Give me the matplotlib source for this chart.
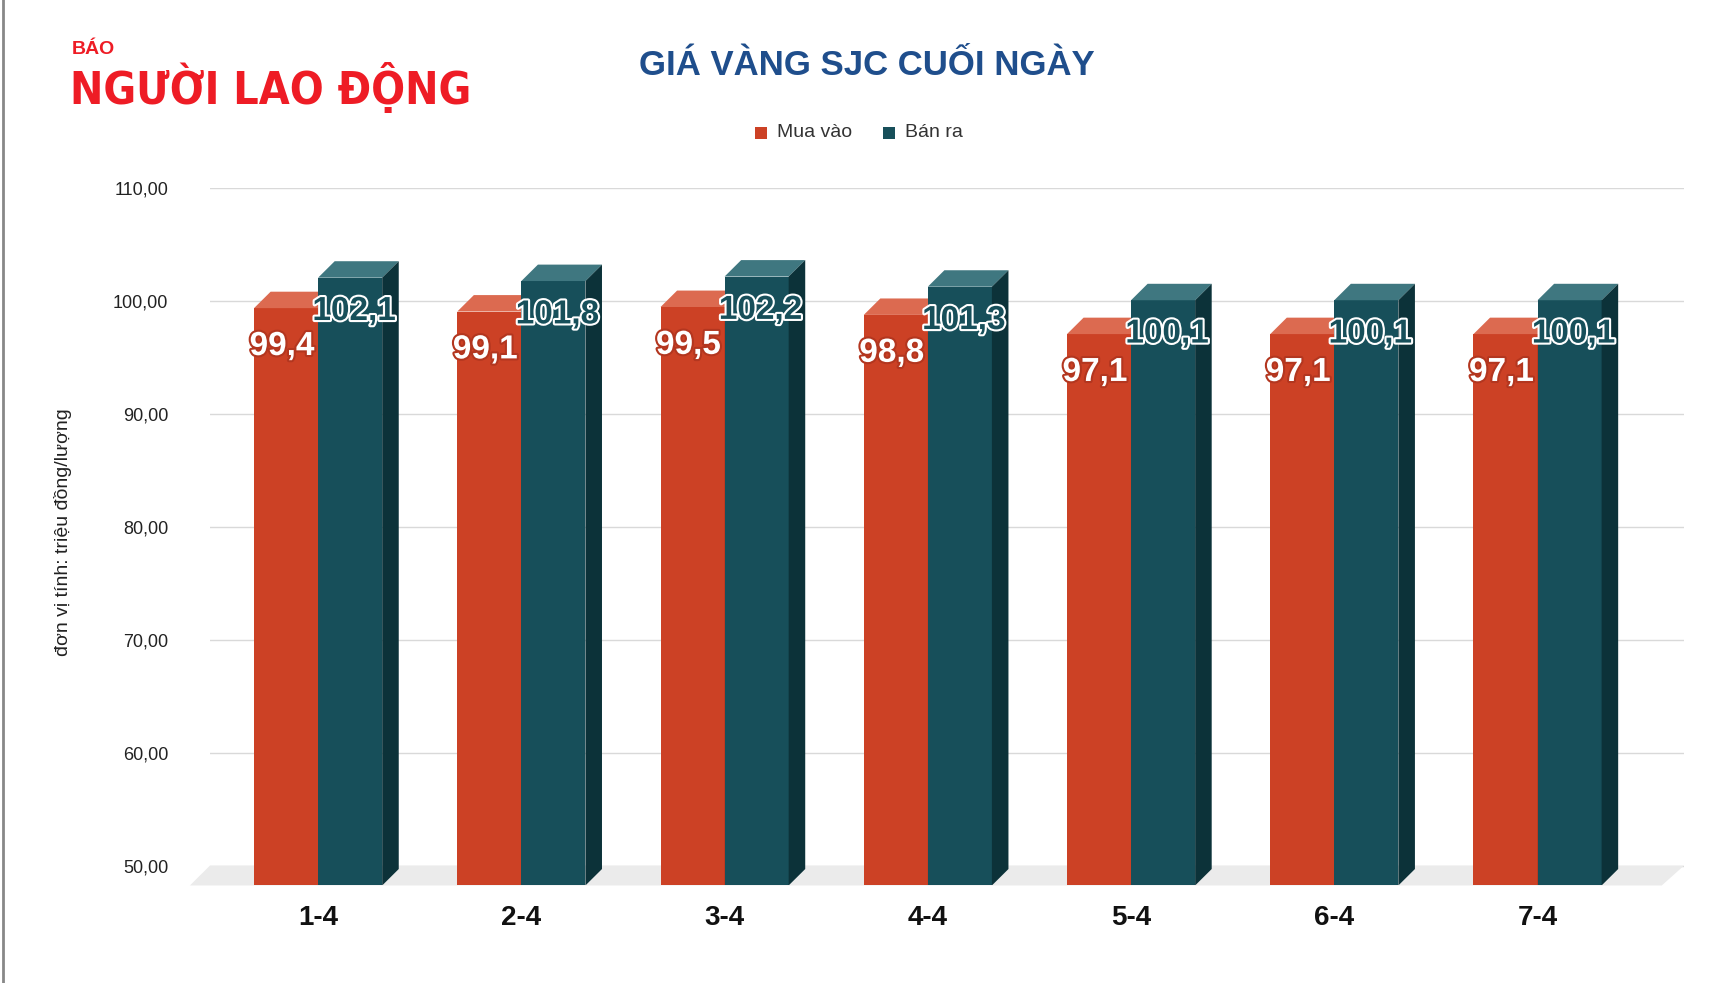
import matplotlib
matplotlib.use("Agg")
import matplotlib.pyplot as plt
from matplotlib.patches import Polygon
import matplotlib.patheffects as pe

plt.rcParams["font.family"] = ["Liberation Sans", "DejaVu Sans"]

dates = ["1-4", "2-4", "3-4", "4-4", "5-4", "6-4", "7-4"]
mua_vao = [99.4, 99.1, 99.5, 98.8, 97.1, 97.1, 97.1]
ban_ra = [102.1, 101.8, 102.2, 101.3, 100.1, 100.1, 100.1]
yticks = [50, 60, 70, 80, 90, 100, 110]

W, H = 1717, 983
fig = plt.figure(figsize=(W/100, H/100), dpi=100)
fig.patch.set_facecolor("white")
ax = fig.add_axes([190/1555, 1-808/897, (1525-190)/1555, (808-172)/897])
ymin, ymax = 48.25, 110
xmin, xmax = -0.533, 6.72
ax.set_xlim(xmin, xmax); ax.set_ylim(ymin, ymax)
for s in ax.spines.values(): s.set_visible(False)
ax.tick_params(length=0)
for t in yticks:
    ax.axhline(t, color="#d9d9d9", lw=1, zorder=0)
ax.set_yticks(yticks)
ax.set_yticklabels([f"{t:.2f}".replace(".", ",") for t in yticks], fontsize=13, color="#222")
ax.set_xticks(range(len(dates)))
ax.set_xticklabels(dates, fontsize=20, fontweight="bold", color="#111")
ax.tick_params(axis="x", pad=14)
ax.tick_params(axis="y", pad=30)

ux = (xmax - xmin) / (1525 - 190)
uy = (ymax - ymin) / (808 - 172)
dx, dy = 15*ux, 15*uy
floor = Polygon([(xmin - 18*ux, ymin), (xmin, 50), (xmax, 50), (xmax - 20*ux, ymin)],
                closed=True, fc="#ebebeb", ec="none", zorder=0.5, clip_on=False)
ax.add_patch(floor)

bw = 58/184
def bar3d(x0, h, front, top, side, z):
    ax.add_patch(Polygon([(x0, ymin), (x0+bw, ymin), (x0+bw, h), (x0, h)], fc=front, ec="none", zorder=z))
    ax.add_patch(Polygon([(x0, h), (x0+bw, h), (x0+bw+dx, h+dy), (x0+dx, h+dy)], fc=top, ec="none", zorder=z))
    ax.add_patch(Polygon([(x0+bw, ymin), (x0+bw+dx, ymin+dy), (x0+bw+dx, h+dy), (x0+bw, h)], fc=side, ec="none", zorder=z))

for i, (m, b) in enumerate(zip(mua_vao, ban_ra)):
    bar3d(i - bw, m, "#cc4125", "#dc6a50", "#a3331d", 2)
    bar3d(i, b, "#174f5a", "#3f7780", "#0c3239", 3)
for i, (m, b) in enumerate(zip(mua_vao, ban_ra)):
    ax.text(i - bw/2 - 0.02, m - 3.4, f"{m:.1f}".replace(".", ","), ha="center", va="center",
            fontsize=24, fontweight="bold", color="white", zorder=5,
            path_effects=[pe.withStroke(linewidth=3, foreground="#b3361f")])
    ax.text(i + bw/2 + 0.02, b - 3.0, f"{b:.1f}".replace(".", ","), ha="center", va="center",
            fontsize=24, fontweight="bold", color="#174f5a", zorder=5,
            path_effects=[pe.withStroke(linewidth=3, foreground="white")])

fig.text(57/1555, 0.5*(1-172/897 + 1-808/897) + 0.005, "đơn vị tính: triệu đồng/lượng",
         rotation=90, ha="center", va="center", fontsize=14, color="#222")
fig.text(785/1555, 1-60/897, "GIÁ VÀNG SJC CUỐI NGÀY", ha="center", va="center",
         fontsize=25, fontweight="bold", color="#1f4e8c")
fig.patches.append(plt.Rectangle((684/1555, 1-127/897), 11/1555, 11/897, transform=fig.transFigure, fc="#cc4125"))
fig.text(704/1555, 1-121/897, "Mua vào", va="center", fontsize=14, color="#333")
fig.patches.append(plt.Rectangle((800/1555, 1-127/897), 11/1555, 11/897, transform=fig.transFigure, fc="#174f5a"))
fig.text(820/1555, 1-121/897, "Bán ra", va="center", fontsize=14, color="#333")
# logo
fig.text(65/1555, 1-45/897, "BÁO", va="center", ha="left", fontsize=14, fontweight="bold", color="#ee1c25")
fig.text(63/1555, 1-80/897, "NGƯỜI LAO ĐỘNG", va="center", ha="left", fontsize=32,
         fontweight="bold", fontstretch="condensed", color="#ee1c25",
         family=["DejaVu Sans Condensed", "DejaVu Sans"])
fig.add_artist(plt.Line2D([0.0015, 0.0015], [0, 1], transform=fig.transFigure, color="#888", lw=2))
fig.savefig("out.png", dpi=100, facecolor="white")
